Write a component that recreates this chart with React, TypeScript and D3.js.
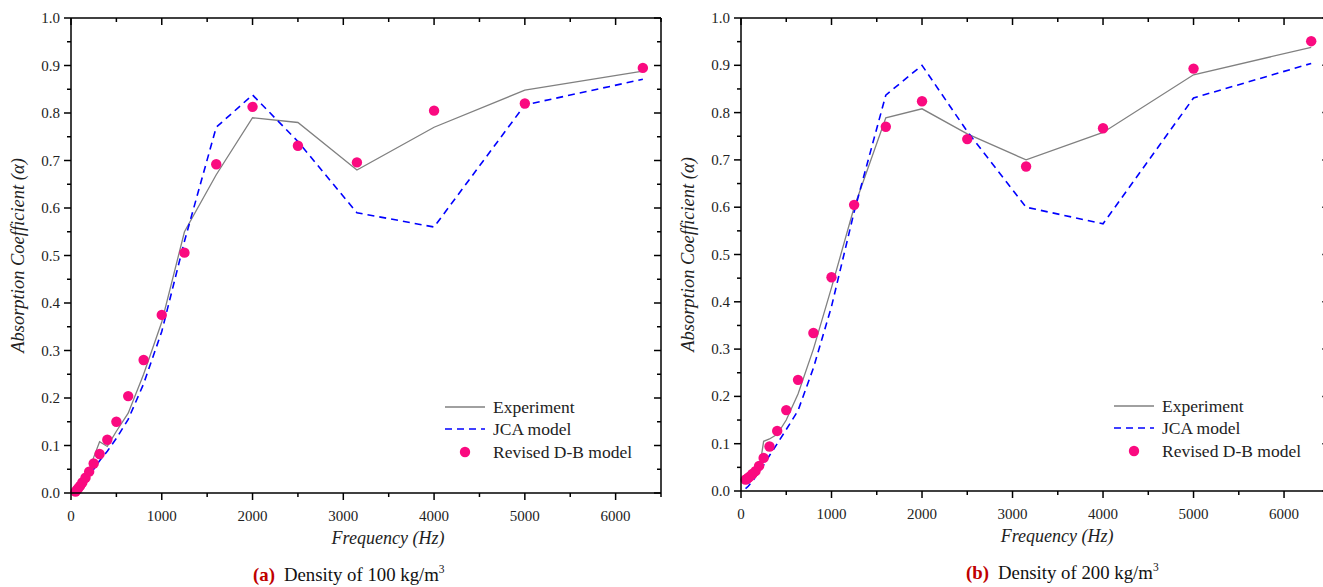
import React from "react";
import * as d3 from "d3";

const freqs = [50, 63, 80, 100, 125, 160, 200, 250, 315, 400, 500, 630, 800, 1000, 1250, 1600, 2000, 2500, 3150, 4000, 5000, 6300];

const expA = [0.005, 0.008, 0.012, 0.018, 0.025, 0.035, 0.05, 0.075, 0.108, 0.098, 0.13, 0.168, 0.25, 0.36, 0.55, 0.67, 0.79, 0.78, 0.68, 0.77, 0.848, 0.888];
const jcaA = [0.003, 0.005, 0.008, 0.012, 0.017, 0.025, 0.035, 0.05, 0.068, 0.088, 0.115, 0.155, 0.23, 0.34, 0.53, 0.77, 0.838, 0.74, 0.59, 0.56, 0.817, 0.871];
const dbA = [0.003, 0.006, 0.01, 0.015, 0.022, 0.032, 0.045, 0.062, 0.082, 0.112, 0.15, 0.204, 0.28, 0.375, 0.506, 0.692, 0.813, 0.731, 0.696, 0.805, 0.82, 0.895];

const expB = [0.015, 0.018, 0.022, 0.026, 0.03, 0.035, 0.042, 0.105, 0.11, 0.12, 0.15, 0.205, 0.3, 0.43, 0.6, 0.789, 0.808, 0.755, 0.7, 0.758, 0.88, 0.938];
const jcaB = [0.005, 0.007, 0.01, 0.015, 0.02, 0.03, 0.04, 0.055, 0.075, 0.1, 0.13, 0.17, 0.26, 0.39, 0.59, 0.837, 0.9, 0.76, 0.6, 0.565, 0.831, 0.904];
const dbB = [0.024, 0.025, 0.028, 0.031, 0.036, 0.042, 0.053, 0.07, 0.094, 0.127, 0.171, 0.235, 0.334, 0.452, 0.605, 0.77, 0.824, 0.744, 0.686, 0.767, 0.893, 0.951];

const xMajor = [0, 1000, 2000, 3000, 4000, 5000, 6000];
const xMinor = [500, 1500, 2500, 3500, 4500, 5500, 6500];
const yMajor = [0, 0.1, 0.2, 0.3, 0.4, 0.5, 0.6, 0.7, 0.8, 0.9, 1.0];
const yMinor = [0.05, 0.15, 0.25, 0.35, 0.45, 0.55, 0.65, 0.75, 0.85, 0.95];

const legendLabels = ["Experiment", "JCA model", "Revised D-B model"];

const FONT = "'Liberation Serif', 'Times New Roman', serif";
const PINK = "#fa0a80";

type PanelProps = {
  x0: number; x1: number; y0: number; y1: number;
  exp: number[]; jca: number[]; db: number[];
  letter: string; density: string;
  legX: number; legY: number;
  yTitleX: number; capX: number;
};

function Panel(p: PanelProps) {
  const x = d3.scaleLinear().domain([0, 6500]).range([p.x0, p.x1]);
  const y = d3.scaleLinear().domain([0, 1]).range([p.y0, p.y1]);
  const line = d3.line<number>().x((_, i) => x(freqs[i])).y((v) => y(v));
  const maj = 7, min = 4;
  const midX = x(3250) + 22;
  return (
    <g>
      {/* data */}
      <path d={line(p.exp) || ""} fill="none" stroke="#808080" strokeWidth={1.3} />
      <path d={line(p.jca) || ""} fill="none" stroke="#0000ff" strokeWidth={1.6} strokeDasharray="7,5" />
      {p.db.map((v, i) => (
        <circle key={i} cx={x(freqs[i])} cy={y(v)} r={5.2} fill={PINK} />
      ))}
      {/* frame */}
      <g stroke="#000" strokeWidth={1.5} fill="none">
        <line x1={p.x0} x2={p.x1} y1={p.y0} y2={p.y0} />
        <line x1={p.x0} x2={p.x1} y1={p.y1} y2={p.y1} />
        <line x1={p.x0} x2={p.x0} y1={p.y0} y2={p.y1} />
        <line x1={p.x1} x2={p.x1} y1={p.y0} y2={p.y1} />
        {xMajor.map((t) => (
          <g key={"xm" + t}>
            <line x1={x(t)} x2={x(t)} y1={p.y0} y2={p.y0 + maj} />
            <line x1={x(t)} x2={x(t)} y1={p.y1} y2={p.y1 + maj} />
          </g>
        ))}
        {xMinor.map((t) => (
          <g key={"xn" + t}>
            <line x1={x(t)} x2={x(t)} y1={p.y0} y2={p.y0 + min} />
            <line x1={x(t)} x2={x(t)} y1={p.y1} y2={p.y1 + min} />
          </g>
        ))}
        {yMajor.map((t) => (
          <g key={"ym" + t}>
            <line x1={p.x0 - maj} x2={p.x0} y1={y(t)} y2={y(t)} />
            <line x1={p.x1 - maj} x2={p.x1} y1={y(t)} y2={y(t)} />
          </g>
        ))}
        {yMinor.map((t) => (
          <g key={"yn" + t}>
            <line x1={p.x0 - min} x2={p.x0} y1={y(t)} y2={y(t)} />
            <line x1={p.x1 - min} x2={p.x1} y1={y(t)} y2={y(t)} />
          </g>
        ))}
      </g>
      {/* tick labels */}
      <g fontFamily={FONT} fontSize={15} fill="#222">
        {xMajor.map((t) => (
          <text key={"xl" + t} x={x(t)} y={p.y0 + 28} textAnchor="middle">{t}</text>
        ))}
        {yMajor.map((t) => (
          <text key={"yl" + t} x={p.x0 - 11} y={y(t) + 5} textAnchor="end">{t.toFixed(1)}</text>
        ))}
      </g>
      {/* axis titles */}
      <text x={midX} y={p.y0 + 51} textAnchor="middle" fontFamily={FONT} fontStyle="italic" fontSize={18} fill="#222">Frequency (Hz)</text>
      <text transform={`translate(${p.yTitleX},${(p.y0 + p.y1) / 2}) rotate(-90)`} textAnchor="middle" fontFamily={FONT} fontStyle="italic" fontSize={18.5} fill="#222">Absorption Coefficient (α)</text>
      {/* legend */}
      <g fontFamily={FONT} fontSize={17.5} fill="#222">
        <line x1={p.legX} x2={p.legX + 40} y1={p.legY} y2={p.legY} stroke="#808080" strokeWidth={1.3} />
        <text x={p.legX + 48} y={p.legY + 6}>{legendLabels[0]}</text>
        <line x1={p.legX} x2={p.legX + 40} y1={p.legY + 22} y2={p.legY + 22} stroke="#0000ff" strokeWidth={1.6} strokeDasharray="7,5" />
        <text x={p.legX + 48} y={p.legY + 28}>{legendLabels[1]}</text>
        <circle cx={p.legX + 20} cy={p.legY + 45} r={5.2} fill={PINK} />
        <text x={p.legX + 48} y={p.legY + 51}>{legendLabels[2]}</text>
      </g>
      {/* caption */}
      <text x={p.capX} y={p.y0 + 88} textAnchor="start" fontFamily={FONT} fontSize={18.8} fill="#111">
        <tspan fontWeight="bold" fill="#c00000">({p.letter})</tspan>
        <tspan dx={9}>{"Density of " + p.density + " kg/m"}</tspan>
        <tspan fontSize={11.5} dy={-8}>3</tspan>
      </text>
    </g>
  );
}

export default function App() {
  return (
    <svg width={1323} height={587} style={{ position: "absolute", left: 0, top: 0, background: "#fff" }}>
      <rect width={1323} height={587} fill="#fff" />
      <Panel x0={71} x1={661} y0={493} y1={18} exp={expA} jca={jcaA} db={dbA} letter="a" density="100" legX={445} legY={407} yTitleX={24} capX={253} />
      <Panel x0={741} x1={1329.3} y0={491} y1={18} exp={expB} jca={jcaB} db={dbB} letter="b" density="200" legX={1114} legY={406} yTitleX={694} capX={966} />
    </svg>
  );
}
